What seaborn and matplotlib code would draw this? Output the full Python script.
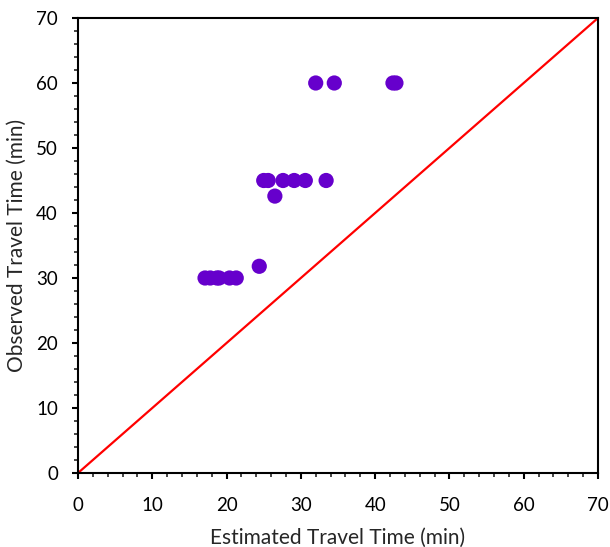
import matplotlib
matplotlib.use("Agg")
import matplotlib.pyplot as plt
import seaborn as sns
import pandas as pd
from matplotlib.ticker import MultipleLocator

estimated = [17.1, 17.8, 18.7, 19.0, 20.4, 21.3, 24.4,
             25.0, 25.6, 27.6, 29.1, 30.6, 33.4, 26.5,
             32.0, 34.5, 42.4, 42.8]
observed = [30, 30, 30, 30, 30, 30, 31.8,
            45, 45, 45, 45, 45, 45, 42.6,
            60, 60, 60, 60]
line_x = [0, 70]
line_y = [0, 70]

df = pd.DataFrame({"Estimated": estimated, "Observed": observed})

sns.set_style("white")
plt.rcParams['font.family'] = ['Lato', 'DejaVu Sans']

fig = plt.figure(figsize=(6.1, 5.47), dpi=100)
ax = fig.add_axes([0.1279, 0.1353, 0.8524, 0.8318])

sns.lineplot(x=line_x, y=line_y, color="#FF0000", linewidth=1.6, ax=ax, zorder=2)
sns.scatterplot(data=df, x="Estimated", y="Observed", color="#6600CC", s=120,
                edgecolor="none", ax=ax, zorder=3)

ax.set_xlim(0, 70)
ax.set_ylim(0, 70)
ax.xaxis.set_major_locator(MultipleLocator(10))
ax.yaxis.set_major_locator(MultipleLocator(10))
ax.xaxis.set_minor_locator(MultipleLocator(2))
ax.yaxis.set_minor_locator(MultipleLocator(2))
ax.tick_params(axis="both", which="major", direction="out", length=4.5, width=1.5,
               labelsize=13.5, colors="black", bottom=True, left=True, top=False, right=False)
ax.tick_params(axis="x", which="major", pad=13)
ax.tick_params(axis="y", which="major", pad=10)
ax.tick_params(axis="both", which="minor", direction="out", length=2.7, width=1.2,
               bottom=True, left=True, top=False, right=False)
for sp in ax.spines.values():
    sp.set_linewidth(1.5)
    sp.set_color("black")
ax.set_xlabel("Estimated Travel Time (min)", fontsize=15, labelpad=9.5)
ax.set_ylabel("Observed Travel Time (min)", fontsize=15, labelpad=6.5)

fig.savefig("out.png", dpi=100)
